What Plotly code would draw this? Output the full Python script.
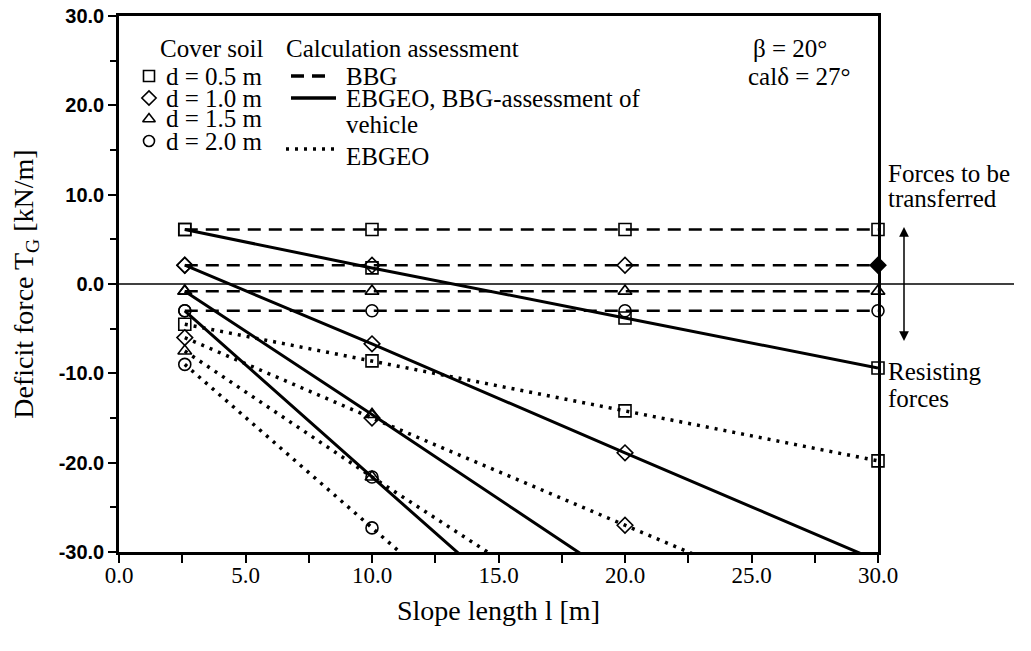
import numpy as np
import plotly.graph_objects as go

# ---------------- data ----------------
slope_length = [2.6, 10.0, 20.0, 30.0]
cover_soil = ["d = 0.5 m", "d = 1.0 m", "d = 1.5 m", "d = 2.0 m"]

# BBG (dashed)
bbg_d05 = [6.1, 6.1, 6.1, 6.1]
bbg_d10 = [2.1, 2.1, 2.1, 2.1]
bbg_d15 = [-0.8, -0.8, -0.8, -0.8]
bbg_d20 = [-3.0, -3.0, -3.0, -3.0]

# EBGEO, BBG-assessment of vehicle (solid)
veh_d05 = [6.1, 1.8, -3.8, -9.4]
veh_d10 = [2.1, -6.7, -18.9, -31.0]
veh_d15 = [-0.8, -14.6, -33.5, -52.0]
veh_d20 = [-3.0, -21.6, -46.6, -71.0]

# EBGEO (dotted)
ebg_d05 = [-4.5, -8.6, -14.2, -19.8]
ebg_d10 = [-6.0, -15.0, -27.0, -39.0]
ebg_d15 = [-7.5, -21.6, -40.0, -58.0]
ebg_d20 = [-9.0, -27.3, -52.0, -77.0]

x_ticks = [0, 5, 10, 15, 20, 25, 30]
y_ticks = [-30, -20, -10, 0, 10, 20, 30]

# ---------------- styles ----------------
SERIF = "Liberation Serif"
SANS = "Liberation Sans"
BLACK = "black"
symbols = ["square-open", "diamond-open", "triangle-up-open", "circle-open"]
dash_bbg = "13px,8px"
dash_dot = "3px,6px"
MS = 12
TXT = 25

fig = go.Figure()

groups = [
    ([bbg_d05, bbg_d10, bbg_d15, bbg_d20], dash_bbg, 2.5, "BBG"),
    ([veh_d05, veh_d10, veh_d15, veh_d20], "solid", 3, "EBGEO, BBG-assessment of vehicle"),
    ([ebg_d05, ebg_d10, ebg_d15, ebg_d20], dash_dot, 3.5, "EBGEO"),
]

xs = np.array(slope_length)
for series, dash, lw, gname in groups:
    for i, ys in enumerate(series):
        ys = np.array(ys)
        fig.add_trace(go.Scatter(
            x=xs, y=ys, mode="lines",
            line=dict(color=BLACK, width=lw, dash=dash),
            name=f"{gname} {cover_soil[i]}", showlegend=False, hoverinfo="skip"))
        mask = ys >= -30
        sym = [symbols[i]] * int(mask.sum())
        if gname == "BBG" and i == 1:
            sym[-1] = "diamond"
        fig.add_trace(go.Scatter(
            x=xs[mask], y=ys[mask], mode="markers",
            marker=dict(symbol=sym, size=MS, color=BLACK,
                        line=dict(color=BLACK, width=1.6)),
            cliponaxis=False, showlegend=False, hoverinfo="skip"))

# ---------------- geometry helpers (pixel -> paper) ----------------
OFF = 7
L, R, T, B = 118 - OFF, 877 - OFF, 15 - OFF, 551 - OFF
W, H = 1031, 651
def PX(p):
    return (p - OFF - L) / (R - L)
def PY(p):
    return (B - (p - OFF)) / (B - T)

# legend glyphs on an overlay axis in paper-like units
leg_rows = [75, 97, 118, 140]
for i, row in enumerate(leg_rows):
    fig.add_trace(go.Scatter(
        x=[PX(148)], y=[PY(row)], xaxis="x2", yaxis="y2", mode="markers",
        marker=dict(symbol=symbols[i], size=MS - 1, color=BLACK, line=dict(color=BLACK, width=1.6)),
        showlegend=False, hoverinfo="skip", cliponaxis=False))
for (x0, x1, row, dash, lw) in [(290, 327, 75, dash_bbg, 3.5), (290, 335, 97, "solid", 3.5), (285, 335, 148, dash_dot, 3.5)]:
    fig.add_trace(go.Scatter(
        x=[PX(x0), PX(x1)], y=[PY(row), PY(row)], xaxis="x2", yaxis="y2", mode="lines",
        line=dict(color=BLACK, width=lw, dash=dash), showlegend=False, hoverinfo="skip"))

texts = [
    ("Cover soil", 157, 48),
    ("Calculation assessment", 283, 48),
    ("β = 20°", 750, 48),
    ("calδ = 27°", 745, 75),
    (cover_soil[0], 163, 75),
    (cover_soil[1], 163, 97),
    (cover_soil[2], 163, 118),
    (cover_soil[3], 163, 140),
    ("BBG", 343, 75),
    ("EBGEO, BBG-assessment of", 343, 98),
    ("vehicle", 343, 124),
    ("EBGEO", 343, 155),
    ("Forces to be", 885, 172),
    ("transferred", 885, 198),
    ("Resisting", 885, 370),
    ("forces", 885, 397),
]
annotations = []
for t, x, y in texts:
    annotations.append(dict(text=t, x=PX(x), y=PY(y), xref="paper", yref="paper",
                            xanchor="left", yanchor="middle", showarrow=False,
                            font=dict(family=SERIF, size=TXT, color=BLACK)))
# double-headed arrow
annotations.append(dict(x=PX(903), y=PY(226), xref="paper", yref="paper",
                        ax=0, ay=124, axref="pixel", ayref="pixel", text=" ",
                        showarrow=True, arrowhead=2, startarrowhead=2, arrowside="end+start",
                        arrowsize=1.3, arrowwidth=1.5, startarrowsize=1.3, arrowcolor=BLACK))

shapes = [dict(type="line", xref="paper", yref="y", x0=0, x1=PX(1013), y0=0, y1=0,
               line=dict(color=BLACK, width=1.5), layer="above")]

fig.update_layout(
    width=W, height=H,
    margin=dict(l=L, r=W - R, t=T, b=H - B, autoexpand=False),
    paper_bgcolor="white", plot_bgcolor="white",
    showlegend=False,
    annotations=annotations, shapes=shapes,
    xaxis=dict(range=[0, 30], tickvals=x_ticks, ticktext=[f"{v:.1f}" for v in x_ticks],
               ticks="outside", ticklen=8, tickwidth=2, tickcolor=BLACK, ticklabelstandoff=-7,
               ticklabeloverflow="allow",
               minor=dict(dtick=2.5, tick0=0, ticks="outside", ticklen=8, tickwidth=2, tickcolor=BLACK, showgrid=False),
               showline=True, linecolor=BLACK, linewidth=2.5, mirror=True,
               showgrid=False, zeroline=False,
               tickfont=dict(family=SERIF, size=23, color=BLACK),
               title=dict(text="Slope length l [m]", font=dict(family=SERIF, size=28, color=BLACK), standoff=14)),
    yaxis=dict(range=[-30, 30], tickvals=y_ticks, ticktext=[f"{v:.1f}" for v in y_ticks],
               ticks="outside", ticklen=8, tickwidth=2, tickcolor=BLACK,
               ticklabeloverflow="allow",
               minor=dict(dtick=5, tick0=0, ticks="outside", ticklen=6, tickwidth=2, tickcolor=BLACK, showgrid=False),
               showline=True, linecolor=BLACK, linewidth=2.5, mirror=True,
               showgrid=False, zeroline=False,
               tickfont=dict(family=SANS, size=20, color=BLACK, weight="bold"),
               title=dict(text="Deficit force T<sub>G</sub> [kN/m]", font=dict(family=SERIF, size=28, color=BLACK), standoff=26)),
    xaxis2=dict(overlaying="x", range=[0, 1], visible=False, fixedrange=True),
    yaxis2=dict(overlaying="y", range=[0, 1], visible=False, fixedrange=True),
)

fig.write_html("out.html")
